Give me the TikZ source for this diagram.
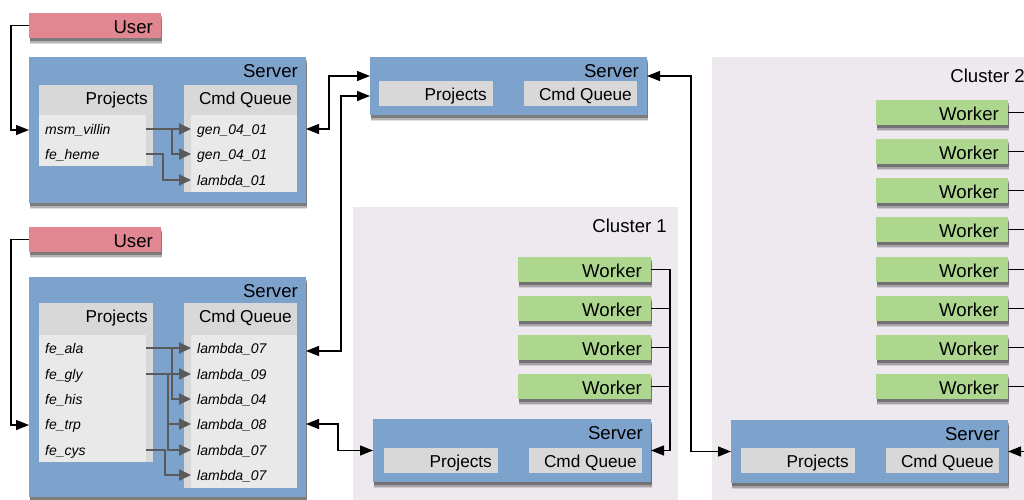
\documentclass[tikz,border=0pt]{standalone}
\usepackage{fontspec}
\setmainfont{Liberation Sans}
\usetikzlibrary{arrows.meta,shadows}
\definecolor{userpink}{RGB}{224,135,145}
\definecolor{serverblue}{RGB}{125,162,203}
\definecolor{panelgray}{RGB}{216,216,216}
\definecolor{panellight}{RGB}{233,233,233}
\definecolor{workergreen}{RGB}{173,215,143}
\definecolor{clusterbg}{RGB}{237,233,239}
\definecolor{arrowgray}{RGB}{90,90,90}
\tikzset{
  box/.style={draw=none, inner sep=0pt, outer sep=0pt, anchor=north west},
  shadowed/.style={
    drop shadow={shadow xshift=0.5pt, shadow yshift=-6pt, fill=black, opacity=0.12},
    drop shadow={shadow xshift=0.5pt, shadow yshift=-4.5pt, fill=black, opacity=0.2},
    drop shadow={shadow xshift=0.5pt, shadow yshift=-3pt, fill=black, opacity=0.3}},
  userbox/.style={box, fill=userpink, shadowed, minimum width=132pt, minimum height=25pt},
  serverbox/.style={box, fill=serverblue, shadowed},
  workerbox/.style={box, fill=workergreen, shadowed, minimum width=133pt, minimum height=25pt},
  clusterbox/.style={box, fill=clusterbg},
  panel/.style={box, fill=panelgray},
  panelbody/.style={box, fill=panellight},
  big/.style={font=\fontsize{18.6}{20}\selectfont, inner sep=0pt, anchor=base east},
  mid/.style={font=\fontsize{17.2}{19}\selectfont, inner sep=0pt, anchor=base east},
  item/.style={font=\fontsize{14}{16}\selectfont\itshape, inner sep=0pt, anchor=west, text height=10pt, text depth=0pt},
  link/.style={draw=black, line width=1.4pt},
  blk/.style={-{Triangle[length=13pt,width=10pt]}},
  dblk/.style={{Triangle[length=13pt,width=10pt]}-{Triangle[length=13pt,width=10pt]}},
  garrow/.style={draw=arrowgray, line width=1.9pt, -{Triangle[length=12pt,width=11pt]}}
}
\begin{document}
\begin{tikzpicture}[x=1pt,y=-1pt]
\useasboundingbox (0,0) rectangle (1024,499);
\fill[white] (0,0) rectangle (1024,499);
\clip (0,0) rectangle (1024,499);

% clusters
\node[clusterbox, minimum width=325pt, minimum height=300pt] (c1) at (353,207) {};
\node[clusterbox, minimum width=330pt, minimum height=450pt] (c2) at (712,57) {};
\node[big] (c1t) at (667,232) {Cluster 1};
\node[big] (c2t) at (1025,82) {Cluster 2};

% users
\node[userbox] (u1) at (29,13) {};
\node[big] (u1t) at ([xshift=-8pt,yshift=-20pt]u1.north east) {User};
\node[userbox] (u2) at (29,227) {};
\node[big] (u2t) at ([xshift=-8pt,yshift=-20pt]u2.north east) {User};

% server 1 (top left)
\node[serverbox, minimum width=277pt, minimum height=146pt] (s1) at (29,57) {};
\node[big] (s1t) at ([xshift=-8pt,yshift=-20pt]s1.north east) {Server};
\node[panel, minimum width=114pt, minimum height=81pt] (p1) at (39,85) {};
\node[panelbody, minimum width=107pt, minimum height=51pt] (p1b) at (39,115) {};
\node[mid] (p1t) at ([xshift=-5pt,yshift=-19pt]p1.north east) {Projects};
\node[panel, minimum width=113pt, minimum height=107pt] (q1) at (184,85) {};
\node[panelbody, minimum width=106pt, minimum height=77pt] (q1b) at (191,115) {};
\node[mid] (q1t) at ([xshift=-5pt,yshift=-19pt]q1.north east) {Cmd Queue};
\node[item] (msm) at (45,129) {msm\_villin};
\node[item] (feh) at (45,154) {fe\_heme};
\node[item] (g1) at (197,129) {gen\_04\_01};
\node[item] (g2) at (197,154) {gen\_04\_01};
\node[item] (l01) at (197,180) {lambda\_01};

% server 2 (bottom left)
\node[serverbox, minimum width=277pt, minimum height=220pt] (s2) at (29,277) {};
\node[big] (s2t) at ([xshift=-8pt,yshift=-20pt]s2.north east) {Server};
\node[panel, minimum width=114pt, minimum height=159pt] (p2) at (39,303) {};
\node[panelbody, minimum width=107pt, minimum height=127pt] (p2b) at (39,335) {};
\node[mid] (p2t) at ([xshift=-5pt,yshift=-19pt]p2.north east) {Projects};
\node[panel, minimum width=113pt, minimum height=185pt] (q2) at (184,303) {};
\node[panelbody, minimum width=106pt, minimum height=153pt] (q2b) at (191,335) {};
\node[mid] (q2t) at ([xshift=-5pt,yshift=-19pt]q2.north east) {Cmd Queue};
\node[item] (ala) at (45,348) {fe\_ala};
\node[item] (gly) at (45,374) {fe\_gly};
\node[item] (his) at (45,399) {fe\_his};
\node[item] (trp) at (45,424) {fe\_trp};
\node[item] (cys) at (45,450) {fe\_cys};
\node[item] (la) at (197,348) {lambda\_07};
\node[item] (lb) at (197,374) {lambda\_09};
\node[item] (lc) at (197,399) {lambda\_04};
\node[item] (ld) at (197,424) {lambda\_08};
\node[item] (le) at (197,450) {lambda\_07};
\node[item] (lf) at (197,475) {lambda\_07};

% server 3 (top middle)
\node[serverbox, minimum width=277pt, minimum height=58pt] (s3) at (370,57) {};
\node[big] (s3t) at ([xshift=-8pt,yshift=-20pt]s3.north east) {Server};
\node[panel, minimum width=114pt, minimum height=25pt] (p3) at (379,81) {};
\node[mid] (p3t) at ([xshift=-6pt,yshift=-19pt]p3.north east) {Projects};
\node[panel, minimum width=113pt, minimum height=25pt] (q3) at (524,81) {};
\node[mid] (q3t) at ([xshift=-5pt,yshift=-19pt]q3.north east) {Cmd Queue};

% cluster 1 workers and server
\foreach \i/\t in {1/257,2/296,3/335,4/374} {
  \node[workerbox] (wa\i) at (518,\t) {};
  \node[big] (wa\i t) at ([xshift=-9pt,yshift=-20pt]wa\i.north east) {Worker};
}
\node[serverbox, minimum width=278pt, minimum height=63pt] (s4) at (373,419) {};
\node[big] (s4t) at ([xshift=-8pt,yshift=-20pt]s4.north east) {Server};
\node[panel, minimum width=114pt, minimum height=25pt] (p4) at (384,448) {};
\node[mid] (p4t) at ([xshift=-6pt,yshift=-19pt]p4.north east) {Projects};
\node[panel, minimum width=113pt, minimum height=25pt] (q4) at (529,448) {};
\node[mid] (q4t) at ([xshift=-5pt,yshift=-19pt]q4.north east) {Cmd Queue};

% cluster 2 workers and server
\foreach \i/\t in {1/100,2/139,3/178,4/217,5/257,6/296,7/335,8/374} {
  \node[workerbox, minimum width=132pt] (wb\i) at (876,\t) {};
  \node[big] (wb\i t) at ([xshift=-9pt,yshift=-20pt]wb\i.north east) {Worker};
}
\node[serverbox, minimum width=277pt, minimum height=63pt] (s5) at (731,420) {};
\node[big] (s5t) at ([xshift=-8pt,yshift=-20pt]s5.north east) {Server};
\node[panel, minimum width=114pt, minimum height=25pt] (p5) at (741,448) {};
\node[mid] (p5t) at ([xshift=-6pt,yshift=-19pt]p5.north east) {Projects};
\node[panel, minimum width=113pt, minimum height=25pt] (q5) at (886,448) {};
\node[mid] (q5t) at ([xshift=-5pt,yshift=-19pt]q5.north east) {Cmd Queue};

% gray project -> queue arrows (server 1)
\draw[garrow] (p1b.east |- msm) -- (q1b.west |- g1);
\draw[garrow] ([xshift=26pt]p1b.east |- msm) |- (q1b.west |- g2);
\draw[garrow] (p1b.east |- feh) -- ([xshift=17pt]p1b.east |- feh) |- (q1b.west |- l01);

% gray project -> queue arrows (server 2)
\draw[garrow] (p2b.east |- ala) -- (q2b.west |- la);
\draw[garrow] ([xshift=26pt]p2b.east |- ala) |- (q2b.west |- lc);
\draw[garrow] (p2b.east |- gly) -- (q2b.west |- lb);
\draw[garrow] ([xshift=22pt]p2b.east |- gly) |- (q2b.west |- ld);
\draw[garrow] ([xshift=22pt]p2b.east |- gly) |- (q2b.west |- le);
\draw[garrow] (p2b.east |- cys) -- ([xshift=19pt]p2b.east |- cys) |- (q2b.west |- lf);

% users -> servers
\draw[link, blk] (u1.west) -- ([xshift=-18pt]u1.west) |- ([yshift=-1pt]s1.west |- msm);
\draw[link, blk] (u2.west) -- ([xshift=-18pt]u2.west) |- ([yshift=-1pt]s2.west |- trp);

% servers <-> servers
\draw[link, dblk] (s1.east |- msm) -- ([xshift=23pt]s1.east |- msm) |- ([yshift=10pt]s3.west);
\draw[link, dblk] ([yshift=-3pt]s2.east |- la) -- ([xshift=35pt,yshift=-3pt]s2.east |- la) |- ([yshift=-10pt]s3.west);
\draw[link, dblk] (s2.east |- ld) -- ([xshift=32pt]s2.east |- ld) |- (s4.west);
\draw[link, dblk] ([yshift=10pt]s3.east) -- ([xshift=44pt,yshift=10pt]s3.east) |- (s5.west);

% cluster 1 workers -> server
\coordinate (busa) at ([xshift=19pt]wa1.east);
\draw[link, blk] (wa1.east) -- (busa) |- (s4.east);
\foreach \i in {2,3,4} { \draw[link] (wa\i.east) -- (busa |- wa\i.east); }

% cluster 2 workers -> server
\coordinate (busb) at ([xshift=22pt]wb1.east);
\draw[link, blk] (wb1.east) -- (busb) |- (s5.east);
\foreach \i in {2,...,8} { \draw[link] (wb\i.east) -- (busb |- wb\i.east); }
\end{tikzpicture}
\end{document}
